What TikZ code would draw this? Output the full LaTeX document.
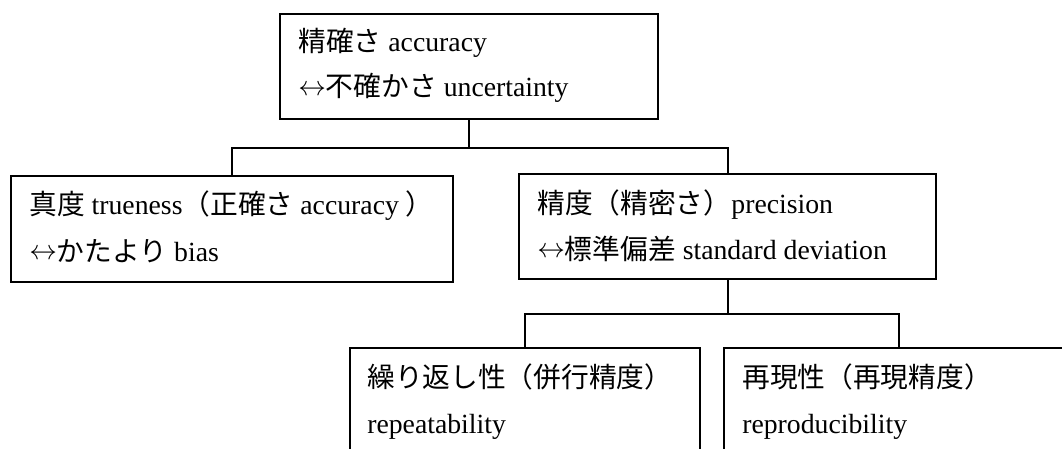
\documentclass[tikz,border=0pt]{standalone}
\usepackage{fontspec}
\setmainfont{Liberation Serif}
\newfontfamily\jp{Noto Sans CJK JP}
\usetikzlibrary{fit}
\newcommand{\arr}{\raisebox{1pt}{$\leftrightarrow$}}
\begin{document}
\begin{tikzpicture}[x=0.75pt,y=-0.75pt,
  box/.style={draw,line width=1.5pt,inner sep=0pt,rectangle},
  txt/.style={anchor=base west,inner sep=0pt,font=\fontsize{20.8pt}{24pt}\selectfont},
  conn/.style={line width=1.5pt}]
\useasboundingbox (0,0) rectangle (1062,449);
\clip (0,0) rectangle (1062,449);
\fill[white] (0,0) rectangle (1062,449);
% boxes
\node[box, fit={(280,14) (658,119)}] (top) {};
\node[box, fit={(11,176) (453,282)}] (tl) {};
\node[box, fit={(519,174) (936,279)}] (tr) {};
\node[box, fit={(350,348) (700,480)}] (bl) {};
\node[box, fit={(724,348) (1074,480)}] (br) {};
% texts
\node[txt] (t1) at (298,52) {{\jp 精確さ} accuracy};
\node[txt] (t2) at (298,97) {\arr{\jp 不確かさ} uncertainty};
\node[txt] (l1) at (29,214) {{\jp 真度} trueness{\jp （正確さ} accuracy {\jp ）}};
\node[txt] (l2) at (29,261) {\arr{\jp かたより} bias};
\node[txt] (r1) at (537,213) {{\jp 精度（精密さ）}precision};
\node[txt] (r2) at (537,259) {\arr{\jp 標準偏差} standard deviation};
\node[txt] (b1) at (367,387) {{\jp 繰り返し性（併行精度）}};
\node[txt] (b2) at (367,433) {repeatability};
\node[txt] (c1) at (742,387) {{\jp 再現性（再現精度）}};
\node[txt] (c2) at (742,433) {reproducibility};
% connectors
\coordinate (j1) at ([yshift=-28*0.75pt]top.south);
\draw[conn] (top.south) -- (j1) -| (tl.north);
\draw[conn] (j1) -| (tr.north);
\coordinate (j2) at ([yshift=-34*0.75pt]tr.south);
\draw[conn] (tr.south) -- (j2) -| (bl.north);
\draw[conn] (j2) -| (br.north);
\end{tikzpicture}
\end{document}
